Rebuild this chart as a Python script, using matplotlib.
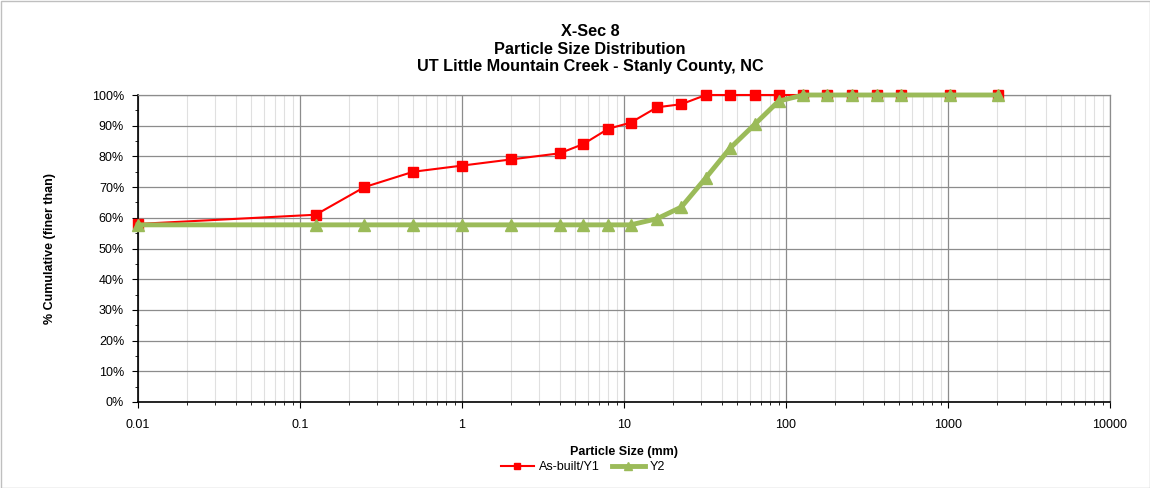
import matplotlib
matplotlib.use("Agg")
import matplotlib.pyplot as plt
from matplotlib.ticker import LogLocator, NullFormatter, MultipleLocator
from matplotlib.patches import Rectangle

plt.rcParams['font.family'] = ['Liberation Sans', 'DejaVu Sans']

sizes = [0.01, 0.125, 0.25, 0.5, 1, 2, 4, 5.6, 8, 11, 16, 22.6, 32, 45, 64, 90,
         128, 180, 256, 362, 512, 1024, 2048]
asbuilt_y1 = [58, 61, 70, 75, 77, 79, 81, 84, 89, 91, 96, 97, 100, 100, 100, 100,
              100, 100, 100, 100, 100, 100, 100]
y2 = [57.7, 57.7, 57.7, 57.7, 57.7, 57.7, 57.7, 57.7, 57.7, 57.7, 59.7, 63.5, 73, 82.6, 90.4, 98,
      100, 100, 100, 100, 100, 100, 100]
series_names = ["As-built/Y1", "Y2"]
x_tick_values = [0.01, 0.1, 1, 10, 100, 1000, 10000]
x_tick_labels = ["0.01", "0.1", "1", "10", "100", "1000", "10000"]
y_tick_values = list(range(0, 101, 10))
y_tick_labels = [f"{v}%" for v in y_tick_values]

fig = plt.figure(figsize=(11.5, 4.88), dpi=100)
ax = fig.add_axes([138/1150, 1-402/488, (1110-138)/1150, (402-95)/488])

l1, = ax.plot(sizes, asbuilt_y1, color='#FF0000', lw=1.5, marker='s', ms=7,
              markerfacecolor='#FF0000', markeredgecolor='#FF0000', zorder=3,
              label=series_names[0], clip_on=False)
l2, = ax.plot(sizes, y2, color='#9BBB59', lw=3.5, marker='^', ms=9,
              markerfacecolor='#9BBB59', markeredgecolor='#9BBB59', zorder=4,
              label=series_names[1], clip_on=False)

ax.set_xscale('log')
ax.set_xlim(0.01, 10000)
ax.set_ylim(0, 100)
ax.set_xticks(x_tick_values)
ax.set_xticklabels(x_tick_labels)
ax.xaxis.set_minor_locator(LogLocator(base=10, subs=range(2, 10), numticks=100))
ax.xaxis.set_minor_formatter(NullFormatter())
ax.set_yticks(y_tick_values)
ax.set_yticklabels(y_tick_labels)
ax.yaxis.set_minor_locator(MultipleLocator(5))

ax.grid(which='major', axis='both', color='#8C8C8C', lw=0.9, zorder=0)
ax.grid(which='minor', axis='x', color='#E0E0E0', lw=0.8, zorder=0)
ax.set_axisbelow(True)

for s in ['top', 'right']:
    ax.spines[s].set_color('#8C8C8C')
    ax.spines[s].set_linewidth(0.9)
for s in ['left', 'bottom']:
    ax.spines[s].set_color('black')
    ax.spines[s].set_linewidth(1.2)

ax.tick_params(axis='both', which='major', labelsize=9, length=4, color='black', direction='out')
ax.tick_params(axis='both', which='minor', length=2, color='black', direction='out')
ax.tick_params(axis='x', pad=8)
ax.tick_params(axis='y', pad=6)

ax.set_xlabel("Particle Size (mm)", fontsize=9, fontweight='bold', labelpad=11)
ax.set_ylabel("% Cumulative (finer than)", fontsize=9, fontweight='bold', labelpad=26)

fig.text(590/1150, 1-49/488, "X-Sec 8\nParticle Size Distribution\nUT Little Mountain Creek - Stanly County, NC",
         ha='center', va='center', fontsize=11.7, fontweight='bold', linespacing=1.2)

leg = fig.legend(handles=[l1, l2], loc='center', bbox_to_anchor=(583/1150, 1-467/488),
                 ncol=2, frameon=False, fontsize=9, handlelength=2.6, columnspacing=1.0,
                 handletextpad=0.4, markerscale=0.6, borderpad=0)

fig.patches.append(Rectangle((0.5/1150, 0.5/488), 1-1/1150, 1-1/488, transform=fig.transFigure,
                             fill=False, edgecolor='#BFBFBF', lw=1))

fig.savefig("out.png", dpi=100)
